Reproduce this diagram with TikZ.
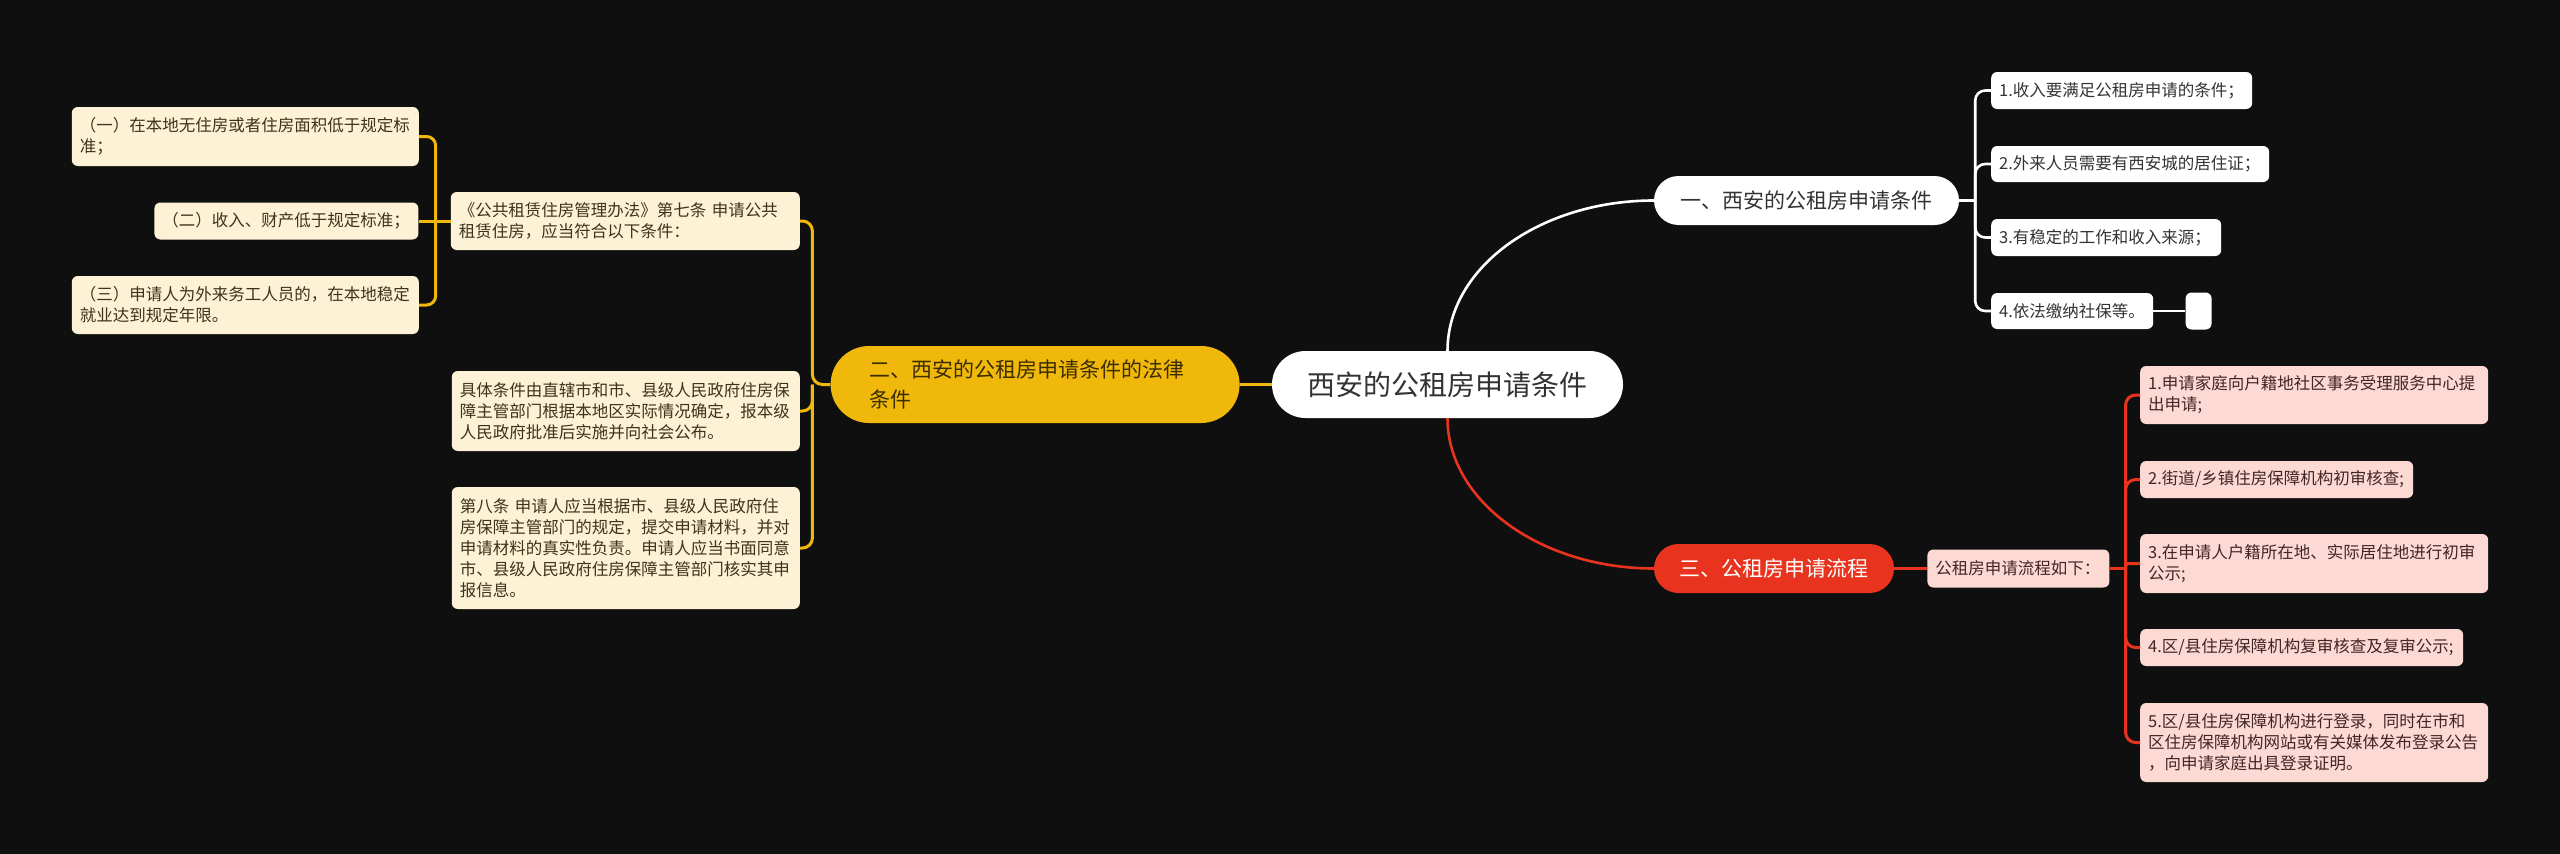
\documentclass[tikz,border=0pt]{standalone}
\usepackage{fontspec}
\newfontfamily\cjkfont{Noto Sans CJK SC}
\usetikzlibrary{positioning}
\definecolor{canvas}{HTML}{0F0F0F}
\definecolor{gold}{HTML}{F0B80B}
\definecolor{cream}{HTML}{FDF1D6}
\definecolor{flowred}{HTML}{E8341F}
\definecolor{blush}{HTML}{FDD9D4}
\definecolor{ink}{HTML}{333333}
\definecolor{goldink}{HTML}{3B2D00}
\definecolor{creamink}{HTML}{3F3419}
\definecolor{blushink}{HTML}{402626}

\begin{document}
\begin{tikzpicture}[
        x=1pt, y=-1pt,
        topic/.style={rectangle, align=center, minimum height=49pt, rounded corners=24.5pt,
            font={\cjkfont\fontsize{21}{30}\selectfont}},
        note/.style={rectangle, rounded corners=6pt, align=left, inner xsep=8pt, inner ysep=0pt,
            font={\cjkfont\fontsize{16.5}{21}\selectfont}},
        lawnote/.style={note, fill=cream, text=creamink},
        condnote/.style={note, fill=white, text=ink},
        flownote/.style={note, fill=blush, text=blushink},
        yline/.style={draw=gold, line width=3pt},
        wline/.style={draw=white, line width=2.6pt},
        rline/.style={draw=flowred, line width=3pt},
    ]

    % Background
    \fill[canvas] (0,0) rectangle (2560,854);

    % Nodes
    \node[rectangle, fill=white, text=ink, minimum width=351pt, minimum height=67pt, rounded corners=33.5pt,
        font={\cjkfont\fontsize{28}{34}\selectfont}] (root) at (1447.5,384.5) {西安的公租房申请条件};

    \node[topic, fill=gold, text=goldink, align=left, text width=331pt, inner xsep=39pt,
        minimum height=77pt, rounded corners=38.5pt, left=32pt of root] (law)
        {二、西安的公租房申请条件的法律\\条件};
    \node[topic, fill=white, text=ink, minimum width=305pt] (cond) at (1806.5,200.5) {一、西安的公租房申请条件};
    \node[topic, fill=flowred, text=white, minimum width=240pt] (proc) at (1774,568.5) {三、公租房申请流程};

    % left side: legal conditions
    \node[lawnote, text width=333pt, minimum height=58pt, anchor=east] (art7) at (800,221)
        {《公共租赁住房管理办法》第七条 申请公共\\租赁住房，应当符合以下条件：};
    \node[lawnote, text width=332pt, minimum height=80pt, anchor=east] (detail) at (800,411)
        {具体条件由直辖市和市、县级人民政府住房保\\障主管部门根据本地区实际情况确定，报本级\\人民政府批准后实施并向社会公布。};
    \node[lawnote, text width=332pt, minimum height=122pt, anchor=east] (art8) at (800,548)
        {第八条 申请人应当根据市、县级人民政府住\\房保障主管部门的规定，提交申请材料，并对\\申请材料的真实性负责。申请人应当书面同意\\市、县级人民政府住房保障主管部门核实其申\\报信息。};

    \node[lawnote, text width=331pt, minimum height=59pt, anchor=east] (c1) at (419,136.5)
        {（一）在本地无住房或者住房面积低于规定标\\准；};
    \node[lawnote, text width=248pt, minimum height=37pt, left=32pt of art7] (c2)
        {（二）收入、财产低于规定标准；};
    \node[lawnote, text width=331pt, minimum height=58pt, anchor=east] (c3) at (419,305)
        {（三）申请人为外来务工人员的，在本地稳定\\就业达到规定年限。};

    % right top: conditions
    \node[condnote, text width=245pt, minimum height=37pt, anchor=west] (i1) at (1991,90.5) {1.收入要满足公租房申请的条件；};
    \node[condnote, text width=262pt, minimum height=36pt, anchor=west] (i2) at (1991,164) {2.外来人员需要有西安城的居住证；};
    \node[condnote, text width=214pt, minimum height=37pt, anchor=west] (i3) at (1991,237.5) {3.有稳定的工作和收入来源；};
    \node[condnote, text width=146pt, minimum height=36pt, anchor=west] (i4) at (1991,311) {4.依法缴纳社保等。};
    \node[condnote, minimum width=26pt, minimum height=37pt, inner xsep=0pt, right=32pt of i4] (blank) {};

    % right bottom: process
    \node[flownote, text width=166pt, minimum height=38pt, right=33pt of proc] (flow) {公租房申请流程如下：};
    \node[flownote, text width=332pt, minimum height=58pt, anchor=west] (s1) at (2140,395)
        {1.申请家庭向户籍地社区事务受理服务中心提\\出申请;};
    \node[flownote, text width=257pt, minimum height=37pt, anchor=west] (s2) at (2140,479.5)
        {2.街道/乡镇住房保障机构初审核查;};
    \node[flownote, text width=332pt, minimum height=59pt, anchor=west] (s3) at (2140,563.5)
        {3.在申请人户籍所在地、实际居住地进行初审\\公示;};
    \node[flownote, text width=307pt, minimum height=37pt, anchor=west] (s4) at (2140,647.5)
        {4.区/县住房保障机构复审核查及复审公示;};
    \node[flownote, text width=332pt, minimum height=79pt, anchor=west] (s5) at (2140,742.5)
        {5.区/县住房保障机构进行登录，同时在市和\\区住房保障机构网站或有关媒体发布登录公告\\，向申请家庭出具登录证明。};

    % Split points
    \coordinate (lawsplit) at ([xshift=-18pt]law.west);
    \coordinate (art7split) at ([xshift=-15pt]art7.west);
    \coordinate (condsplit) at ([xshift=16pt]cond.east);
    \coordinate (flowsplit) at ([xshift=16pt]flow.east);

    % Edges
    \draw[yline] (root.west) -- (law.east);
    \draw[wline] (root.north) .. controls +(0,-84) and +(-113,0) .. (cond.west);
    \draw[rline, line width=2.6pt] (root.south) .. controls +(0,83) and +(-113,0) .. (proc.west);

    \draw[yline, rounded corners=10pt] (law.west) -- (lawsplit) |- (art7.east);
    \draw[yline, rounded corners=10pt] (lawsplit) |- (detail.east);
    \draw[yline, rounded corners=10pt] (lawsplit) |- (art8.east);

    \draw[yline] (art7.west) -- (c2.east);
    \draw[yline, rounded corners=9pt] (art7split) |- (c1.east);
    \draw[yline, rounded corners=9pt] (art7split) |- (c3.east);

    \draw[wline] (cond.east) -- (condsplit);
    \draw[wline, rounded corners=10pt] (condsplit) |- (i1.west);
    \draw[wline, rounded corners=10pt] (condsplit) |- (i2.west);
    \draw[wline, rounded corners=10pt] (condsplit) |- (i3.west);
    \draw[wline, rounded corners=10pt] (condsplit) |- (i4.west);
    \draw[wline] (i4.east) -- (blank.west);

    \draw[rline] (proc.east) -- (flow.west);
    \draw[rline] (flow.east) -- (flowsplit);
    \draw[rline, rounded corners=10pt] (flowsplit) |- (s1.west);
    \draw[rline, rounded corners=10pt] (flowsplit) |- (s2.west);
    \draw[rline, rounded corners=2.5pt] (flowsplit) |- (s3.west);
    \draw[rline, rounded corners=10pt] (flowsplit) |- (s4.west);
    \draw[rline, rounded corners=10pt] (flowsplit) |- (s5.west);

\end{tikzpicture}
\end{document}
